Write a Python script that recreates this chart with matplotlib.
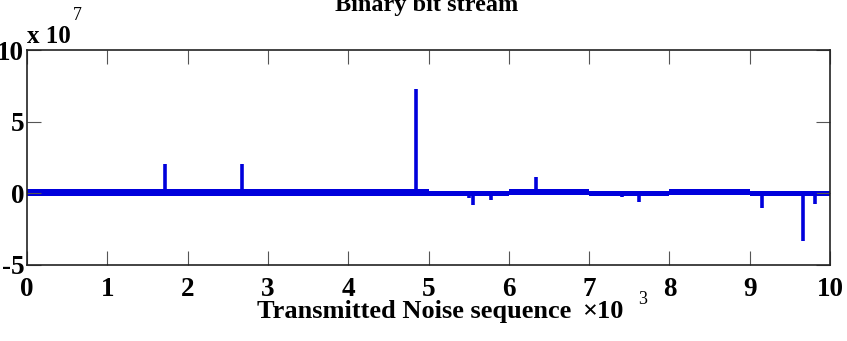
import matplotlib

matplotlib.use("Agg")
import matplotlib.pyplot as plt  # noqa: E402
import numpy as np  # noqa: E402

# Noise band around zero, one level pair per 1000-sample block
block_edges = [0, 1000, 2000, 3000, 4000, 5000, 6000, 7000, 8000, 9000, 10000]
band_upper = [0.27e7, 0.27e7, 0.27e7, 0.27e7, 0.27e7, 0.18e7, 0.28e7, 0.18e7, 0.28e7, 0.18e7]
band_lower = [-0.16e7, -0.16e7, -0.16e7, -0.16e7, -0.16e7, -0.16e7, -0.11e7, -0.16e7, -0.11e7, -0.16e7]

# Isolated spikes (sample index, amplitude)
spike_pos = [1720, 1990, 2680, 4840, 5500, 5560, 5775, 6340, 7405, 7625, 7767, 9157, 9340, 9660, 9813]
spike_val = [2.05e7, 0.3e7, 2.05e7, 7.3e7, -0.35e7, -0.8e7, -0.5e7, 1.15e7, -0.25e7, -0.6e7,
             -0.15e7, -1.0e7, -0.15e7, -3.35e7, -0.77e7]

x_ticks = [0, 1, 2, 3, 4, 5, 6, 7, 8, 9, 10]
y_ticks = [-5, 0, 5, 10]

BLUE = "#0000dc"
SERIF = "Liberation Serif"

fig = plt.figure(figsize=(8.47, 3.41), dpi=100)
ax = fig.add_axes([27 / 847, 1 - 265 / 341, (830 - 27) / 847, (265 - 50) / 341])

edges = np.array(block_edges) / 1e3
up = np.array(band_upper + band_upper[-1:]) / 1e7
lo = np.array(band_lower + band_lower[-1:]) / 1e7
ax.fill_between(edges, lo, up, step="post", color=BLUE, lw=0)
ax.vlines(np.array(spike_pos) / 1e3, 0, np.array(spike_val) / 1e7, color=BLUE, lw=2.6)

ax.set_xlim(0, 10)
ax.set_ylim(-5, 10)
ax.set_xticks(x_ticks)
ax.set_yticks(y_ticks)
ax.set_xticklabels([str(t) for t in x_ticks])
ax.set_yticklabels([str(t) for t in y_ticks])
ax.tick_params(direction="in", length=10, width=0.8, color="#555555",
               top=True, right=True)
ax.tick_params(axis="x", pad=9)
ax.tick_params(axis="y", pad=2)
for lab in ax.get_xticklabels() + ax.get_yticklabels():
    lab.set_fontfamily(SERIF)
    lab.set_fontweight("bold")
    lab.set_fontsize(19.5)
for sp in ax.spines.values():
    sp.set_linewidth(1.2)
    sp.set_color("#222222")

ax.set_xlabel("Transmitted Noise sequence", fontfamily=SERIF, fontweight="bold",
              fontsize=19, va="baseline")
ax.xaxis.set_label_coords((414 - 27) / 803, (265 - 318) / 215)

fig.text(27 / 847, 1 - 43 / 341, "x 10", fontfamily=SERIF, fontweight="bold",
         fontsize=18, ha="left", va="baseline")
fig.text(73 / 847, 1 - 20 / 341, "7", fontfamily=SERIF, fontsize=13,
         ha="left", va="baseline")
fig.text(582 / 847, 1 - 318 / 341, "\u00d710", fontfamily=SERIF, fontweight="bold",
         fontsize=19, ha="left", va="baseline")
fig.text(638 / 847, 1 - 304 / 341, "3", fontfamily=SERIF, fontsize=13,
         ha="left", va="baseline")
fig.text(427 / 847, 1 - 11 / 341, "Binary bit stream", fontfamily=SERIF,
         fontweight="bold", fontsize=17.5, ha="center", va="baseline")

fig.savefig("out.png", dpi=100)
